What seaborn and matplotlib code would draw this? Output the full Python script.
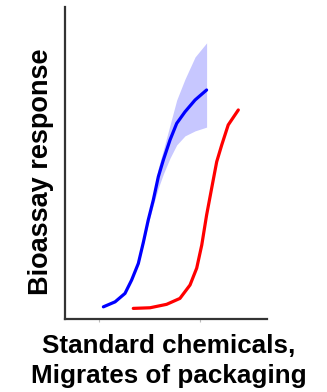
import matplotlib
matplotlib.use("Agg")
import matplotlib.pyplot as plt
import seaborn as sns
import pandas as pd

# Standard chemicals (blue) with variability band
blue_x = [1.90, 2.48, 2.97, 3.30, 3.63, 3.88, 4.12, 4.37, 4.62, 4.87, 5.20, 5.53, 5.94, 6.44, 7.01]
blue_y = [3.9, 5.5, 8.2, 12.5, 17.8, 24.6, 31.7, 38.1, 45.6, 51.0, 57.4, 62.7, 66.4, 70.2, 73.4]
blue_lo = [3.9, 5.5, 8.2, 12.5, 17.4, 23.8, 30.5, 36.5, 42.0, 46.5, 51.6, 55.8, 58.7, 60.3, 61.5]
blue_hi = [3.9, 5.5, 8.2, 12.5, 18.2, 25.5, 33.0, 40.0, 48.4, 54.2, 62.2, 70.2, 76.9, 84.0, 88.5]

# Migrates of packaging (red)
red_x = [3.38, 4.21, 5.03, 5.69, 6.19, 6.52, 6.77, 7.01, 7.26, 7.51, 7.76, 8.08, 8.58]
red_y = [3.4, 3.6, 4.7, 6.6, 10.9, 16.3, 23.7, 33.3, 41.9, 50.4, 55.8, 62.2, 67.0]

tick_pos = [1.68, 6.68]

sns.set_theme(style="white")
plt.rcParams['font.family'] = ['Liberation Sans', 'DejaVu Sans']

fig = plt.figure(figsize=(3.27, 3.92), dpi=100)
ax = fig.add_axes([65/327, (392-319)/392, 202/327, 312/392])

ax.fill_between(blue_x, blue_lo, blue_hi, color=(0.78, 0.78, 1.0), linewidth=0)
df_b = pd.DataFrame({"x": blue_x, "y": blue_y})
df_r = pd.DataFrame({"x": red_x, "y": red_y})
sns.lineplot(data=df_b, x="x", y="y", ax=ax, color="#0000ff", linewidth=2.3, sort=False)
sns.lineplot(data=df_r, x="x", y="y", ax=ax, color="#ff0000", linewidth=2.3, sort=False)

ax.set_xlim(0, 10)
ax.set_ylim(0, 100)
ax.set_xlabel("")
ax.set_ylabel("")
ax.set_xticks(tick_pos)
ax.set_xticklabels([])
ax.set_yticks([])
ax.tick_params(axis="x", bottom=True, length=2, width=0.8, color="#bbbbbb")
for s in ["top", "right"]:
    ax.spines[s].set_visible(False)
for s in ["left", "bottom"]:
    ax.spines[s].set_color("#333333")
    ax.spines[s].set_linewidth(1.6)

fig.text(41/327, 1 - 172/392, "Bioassay response", rotation=90, ha="center", va="center",
         fontsize=19.5, fontweight="bold", color="black")
fig.text(169/327, 1 - 353/392, "Standard chemicals,", ha="center", va="baseline",
         fontsize=18.7, fontweight="bold", color="black")
fig.text(169/327, 1 - 383/392, "Migrates of packaging", ha="center", va="baseline",
         fontsize=18.7, fontweight="bold", color="black")

fig.savefig("out.png", dpi=100)
